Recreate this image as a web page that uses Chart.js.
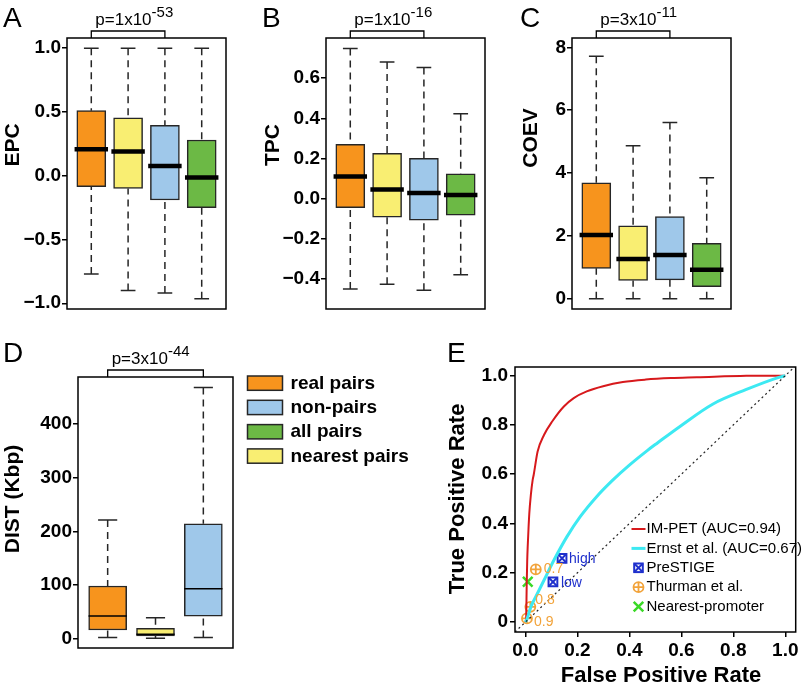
<!DOCTYPE html>
<html>
<head>
<meta charset="utf-8">
<script src="https://cdn.jsdelivr.net/npm/chart.js@4.4.1/dist/chart.umd.min.js"></script>
<style>
  html, body { margin: 0; padding: 0; background: #fff; }
  #fig { position: relative; width: 805px; height: 690px; overflow: hidden; }
  .panel { position: absolute; }
</style>
</head>
<body>
<div id="fig">
  <div class="panel" style="left:0;top:0;width:260px;height:330px"><canvas id="chartA"></canvas></div>
  <div class="panel" style="left:260px;top:0;width:260px;height:330px"><canvas id="chartB"></canvas></div>
  <div class="panel" style="left:520px;top:0;width:285px;height:330px"><canvas id="chartC"></canvas></div>
  <div class="panel" style="left:0;top:330px;width:430px;height:360px"><canvas id="chartD"></canvas></div>
  <div class="panel" style="left:430px;top:330px;width:375px;height:360px"><canvas id="chartE"></canvas></div>
</div>
<script>
// ---- data ----
// box order in A-C: real pairs, nearest pairs, non-pairs, all pairs
const epcMin = [-0.77, -0.90, -0.92, -0.965];
const epcQ1 = [-0.086, -0.10, -0.19, -0.25];
const epcMed = [0.207, 0.19, 0.076, -0.013];
const epcQ3 = [0.51, 0.455, 0.395, 0.28];
const epcMax = [1.0, 1.0, 1.0, 1.0];
const epcTicks = [-1, -0.5, 0, 0.5, 1];
const epcTickLabels = ['\u22121.0', '\u22120.5', '0.0', '0.5', '1.0'];

const tpcMin = [-0.45, -0.427, -0.457, -0.38];
const tpcQ1 = [-0.045, -0.093, -0.107, -0.082];
const tpcMed = [0.11, 0.045, 0.028, 0.018];
const tpcQ3 = [0.27, 0.225, 0.20, 0.123];
const tpcMax = [0.748, 0.68, 0.653, 0.423];
const tpcTicks = [-0.4, -0.2, 0, 0.2, 0.4, 0.6];
const tpcTickLabels = ['\u22120.4', '\u22120.2', '0.0', '0.2', '0.4', '0.6'];

const coevMin = [0, 0, 0, 0];
const coevQ1 = [0.965, 0.58, 0.60, 0.38];
const coevMed = [2.03, 1.26, 1.39, 0.92];
const coevQ3 = [3.69, 2.32, 2.61, 1.76];
const coevMax = [7.72, 4.87, 5.61, 3.85];
const coevTicks = [0, 2, 4, 6, 8];
const coevTickLabels = ['0', '2', '4', '6', '8'];

// D order: real pairs, nearest pairs, non-pairs
const distMin = [2, 0.5, 2];
const distQ1 = [16, 5, 41.6];
const distMed = [42, 8, 93];
const distQ3 = [98, 19, 214];
const distMax = [221, 39, 468];
const distTicks = [0, 100, 200, 300, 400];
const distTickLabels = ['0', '100', '200', '300', '400'];

const legendLabels = ['real pairs', 'non-pairs', 'all pairs', 'nearest pairs'];

// E: ROC curves
const imPetFpr = [0, 0.003, 0.005, 0.007, 0.009, 0.012, 0.015, 0.021, 0.028, 0.032, 0.047, 0.072, 0.103, 0.148, 0.186, 0.236, 0.299, 0.375, 0.463, 0.56, 0.66, 0.85, 1.0];
const imPetTpr = [0, 0.02, 0.15, 0.25, 0.31, 0.38, 0.44, 0.516, 0.577, 0.598, 0.692, 0.760, 0.814, 0.875, 0.909, 0.936, 0.957, 0.974, 0.984, 0.990, 0.993, 0.999, 1.0];
const ernstFpr = [0, 0.005, 0.009, 0.021, 0.040, 0.072, 0.110, 0.160, 0.211, 0.274, 0.337, 0.400, 0.470, 0.508, 0.596, 0.722, 0.848, 0.975, 1.0];
const ernstTpr = [0, 0.01, 0.022, 0.062, 0.103, 0.171, 0.252, 0.347, 0.428, 0.509, 0.577, 0.637, 0.697, 0.727, 0.795, 0.885, 0.943, 0.993, 1.0];
const prestigeFpr = [0.141, 0.106];
const prestigeTpr = [0.259, 0.163];
const prestigeLabels = ['high', 'low'];
const thurmanFpr = [0.040, 0.019, 0.006];
const thurmanTpr = [0.214, 0.062, 0.015];
const thurmanLabels = ['0.7', '0.8', '0.9'];
const nearestFpr = [0.009];
const nearestTpr = [0.164];
const rocLegendLabels = ['IM-PET (AUC=0.94)', 'Ernst et al. (AUC=0.67)', 'PreSTIGE', 'Thurman et al.', 'Nearest-promoter'];
const rateTicks = [0, 0.2, 0.4, 0.6, 0.8, 1.0];
const fprTickLabels = ['0.0', '0.2', '0.4', '0.6', '0.8', '1.0'];
const tprTickLabels = ['0', '0.2', '0.4', '0.6', '0.8', '1.0'];

// ---- style ----
const FONT = "'Liberation Sans', Arial, Helvetica, sans-serif";
const ORANGE = '#F7941D', YELLOW = '#F9EE72', BLUE = '#9FC8EA', GREEN = '#6CB945';
const RED = '#D7191C', CYAN = '#3DE9F2', M_BLUE = '#1F30CC', M_ORANGE = '#F2A33A', M_GREEN = '#3AD926';
const EDGE = '#262626';

Chart.defaults.font.family = FONT;
Chart.defaults.color = '#000';
Chart.defaults.animation = false;
Chart.defaults.events = [];
Chart.defaults.plugins.legend.display = false;
Chart.defaults.plugins.tooltip.enabled = false;

const tickGrid = { display: true, drawOnChartArea: false, drawTicks: true, tickLength: 5, color: '#000', lineWidth: 1.5 };

// whiskers, caps and medians of the box plots
const boxWhiskers = {
    id: 'boxWhiskers',
    afterDatasetsDraw(chart, args, o) {
        if (!o.stats) return;
        const { ctx, scales: { x, y } } = chart;
        const s = o.stats;
        ctx.save();
        for (let i = 0; i < s.med.length; i++) {
            const cx = x.getPixelForValue(i + 1);
            const cap = x.getPixelForValue(i + 1.2) - cx;
            const half = x.getPixelForValue(i + 1.4) - cx;
            ctx.strokeStyle = EDGE;
            ctx.lineWidth = 1.5;
            ctx.setLineDash([7, 5]);
            ctx.beginPath();
            ctx.moveTo(cx, y.getPixelForValue(s.max[i]));
            ctx.lineTo(cx, y.getPixelForValue(s.q3[i]));
            ctx.moveTo(cx, y.getPixelForValue(s.min[i]));
            ctx.lineTo(cx, y.getPixelForValue(s.q1[i]));
            ctx.stroke();
            ctx.setLineDash([]);
            ctx.beginPath();
            [s.max[i], s.min[i]].forEach(v => {
                const py = y.getPixelForValue(v);
                ctx.moveTo(cx - cap, py);
                ctx.lineTo(cx + cap, py);
            });
            ctx.stroke();
            const my = y.getPixelForValue(s.med[i]);
            ctx.strokeStyle = '#000';
            ctx.lineWidth = o.medianWidth;
            ctx.beginPath();
            ctx.moveTo(cx - half - o.medianExtra, my);
            ctx.lineTo(cx + half + o.medianExtra, my);
            ctx.stroke();
        }
        ctx.restore();
    }
};

// frame, panel letter, p-value bracket and axis titles
const panelDecor = {
    id: 'panelDecor',
    afterDraw(chart, args, o) {
        if (!o.letter) return;
        const { ctx, chartArea: a } = chart;
        ctx.save();
        ctx.strokeStyle = '#000';
        ctx.lineWidth = 1.5;
        ctx.strokeRect(a.left, a.top, a.right - a.left, a.bottom - a.top);
        ctx.fillStyle = '#000';
        ctx.textAlign = 'left';
        ctx.textBaseline = 'alphabetic';
        ctx.font = '28px ' + FONT;
        ctx.fillText(o.letter, o.letterAt[0], o.letterAt[1]);
        if (o.p) {
            const x1 = chart.scales.x.getPixelForValue(o.p.from);
            const x2 = chart.scales.x.getPixelForValue(o.p.to);
            const top = a.top - 7;
            ctx.lineWidth = 1.3;
            ctx.beginPath();
            ctx.moveTo(x1, a.top);
            ctx.lineTo(x1, top);
            ctx.lineTo(x2, top);
            ctx.lineTo(x2, a.top);
            ctx.stroke();
            ctx.font = '17px ' + FONT;
            ctx.fillText(o.p.base, x1 + 4, top - 6);
            const w = ctx.measureText(o.p.base).width;
            ctx.font = '15px ' + FONT;
            ctx.fillText(o.p.exp, x1 + 4 + w, top - 14);
        }
        if (o.yTitle) {
            ctx.save();
            ctx.translate(o.yTitle.at[0], o.yTitle.at[1]);
            ctx.rotate(-Math.PI / 2);
            ctx.textAlign = 'center';
            ctx.textBaseline = 'middle';
            ctx.font = 'bold ' + o.yTitle.size + 'px ' + FONT;
            ctx.fillText(o.yTitle.text, 0, 0);
            ctx.restore();
        }
        if (o.xTitle) {
            ctx.textAlign = 'center';
            ctx.textBaseline = 'middle';
            ctx.font = 'bold ' + o.xTitle.size + 'px ' + FONT;
            ctx.fillText(o.xTitle.text, o.xTitle.at[0], o.xTitle.at[1]);
        }
        ctx.restore();
    }
};

Chart.register(boxWhiskers, panelDecor);

function boxChart(id, st, colors, ticks, tickLabels, cfg) {
    return new Chart(document.getElementById(id), {
        type: 'bar',
        data: {
            datasets: [{
                data: st.q1.map((q, i) => ({ x: i + 1, y: [q, st.q3[i]] })),
                backgroundColor: colors,
                borderColor: EDGE,
                borderWidth: 1.5,
                borderSkipped: false,
                barThickness: cfg.barThickness
            }]
        },
        options: {
            responsive: true,
            maintainAspectRatio: false,
            layout: { padding: cfg.padding },
            scales: {
                x: { type: 'linear', min: cfg.xRange[0], max: cfg.xRange[1], offset: false, display: false },
                y: {
                    min: cfg.yRange[0],
                    max: cfg.yRange[1],
                    afterBuildTicks: s => { s.ticks = ticks.map(v => ({ value: v })); },
                    afterFit: s => { s.width = cfg.axisWidth; },
                    grid: tickGrid,
                    border: { display: false },
                    ticks: {
                        font: { size: 19, weight: 'bold' },
                        padding: 1,
                        callback: v => tickLabels[ticks.indexOf(v)]
                    }
                }
            },
            plugins: {
                boxWhiskers: { stats: st, medianWidth: cfg.medianWidth, medianExtra: cfg.medianExtra },
                panelDecor: cfg.decor
            }
        },
        plugins: cfg.extraPlugins || []
    });
}

const abcColors = [ORANGE, YELLOW, BLUE, GREEN];

boxChart('chartA', { min: epcMin, q1: epcQ1, med: epcMed, q3: epcQ3, max: epcMax }, abcColors, epcTicks, epcTickLabels, {
    barThickness: 29, padding: { left: 0, top: 38, right: 34, bottom: 21 }, axisWidth: 67,
    xRange: [0.34, 4.66], yRange: [-1.045, 1.08], medianWidth: 4.5, medianExtra: 2,
    decor: { letter: 'A', letterAt: [3, 27], p: { from: 1, to: 3, base: 'p=1x10', exp: '-53' },
             yTitle: { text: 'EPC', at: [13, 145], size: 21 } }
});

boxChart('chartB', { min: tpcMin, q1: tpcQ1, med: tpcMed, q3: tpcQ3, max: tpcMax }, abcColors, tpcTicks, tpcTickLabels, {
    barThickness: 29, padding: { left: 0, top: 38, right: 35, bottom: 21 }, axisWidth: 66,
    xRange: [0.34, 4.66], yRange: [-0.55, 0.80], medianWidth: 4.5, medianExtra: 2,
    decor: { letter: 'B', letterAt: [2, 27], p: { from: 1, to: 3, base: 'p=1x10', exp: '-16' },
             yTitle: { text: 'TPC', at: [13, 145], size: 21 } }
});

boxChart('chartC', { min: coevMin, q1: coevQ1, med: coevMed, q3: coevQ3, max: coevMax }, abcColors, coevTicks, coevTickLabels, {
    barThickness: 29, padding: { left: 0, top: 38, right: 74, bottom: 21 }, axisWidth: 52,
    xRange: [0.34, 4.66], yRange: [-0.33, 8.30], medianWidth: 4.5, medianExtra: 2,
    decor: { letter: 'C', letterAt: [0, 27], p: { from: 1, to: 3, base: 'p=3x10', exp: '-11' },
             yTitle: { text: 'COEV', at: [11, 138], size: 21 } }
});

// legend of panel D, drawn next to its plot
const distLegend = {
    id: 'distLegend',
    afterDraw(chart) {
        const ctx = chart.ctx;
        const fills = [ORANGE, BLUE, GREEN, YELLOW];
        ctx.save();
        ctx.font = 'bold 19px ' + FONT;
        ctx.textAlign = 'left';
        ctx.textBaseline = 'middle';
        legendLabels.forEach((lab, i) => {
            const top = 46 + i * 24.3;
            ctx.fillStyle = fills[i];
            ctx.fillRect(247.5, top, 35, 14.3);
            ctx.strokeStyle = EDGE;
            ctx.lineWidth = 1.5;
            ctx.strokeRect(247.5, top, 35, 14.3);
            ctx.fillStyle = '#000';
            ctx.fillText(lab, 290.5, top + 7.5);
        });
        ctx.restore();
    }
};

boxChart('chartD', { min: distMin, q1: distQ1, med: distMed, q3: distQ3, max: distMax }, [ORANGE, YELLOW, BLUE], distTicks, distTickLabels, {
    barThickness: 38, padding: { left: 0, top: 47, right: 197, bottom: 42 }, axisWidth: 78,
    xRange: [0.38, 3.62], yRange: [-17.5, 487.6], medianWidth: 1.5, medianExtra: 0,
    decor: { letter: 'D', letterAt: [3, 32], p: { from: 1, to: 3, base: 'p=3x10', exp: '-44' },
             yTitle: { text: 'DIST (Kbp)', at: [13, 169], size: 21 } },
    extraPlugins: [distLegend]
});

// ---- panel E: ROC ----
const pts = (xs, ys) => xs.map((v, i) => ({ x: v, y: ys[i] }));
const E_MIN = -0.04, E_MAX = 1.04;

const rocExtras = {
    id: 'rocExtras',
    afterDatasetsDraw(chart) {
        const { ctx, scales: { x, y } } = chart;
        ctx.save();
        ctx.font = '14px ' + FONT;
        ctx.textAlign = 'left';
        ctx.textBaseline = 'middle';
        ctx.fillStyle = M_BLUE;
        const prestigeOff = [[7, 1], [8, 1]];
        prestigeLabels.forEach((lab, i) => {
            ctx.fillText(lab, x.getPixelForValue(prestigeFpr[i]) + prestigeOff[i][0], y.getPixelForValue(prestigeTpr[i]) + prestigeOff[i][1]);
        });
        ctx.fillStyle = M_ORANGE;
        const thurmanOff = [[8, 0], [5, -7], [7, 4]];
        thurmanLabels.forEach((lab, i) => {
            ctx.fillText(lab, x.getPixelForValue(thurmanFpr[i]) + thurmanOff[i][0], y.getPixelForValue(thurmanTpr[i]) + thurmanOff[i][1]);
        });
        // legend inside the plot
        ctx.font = '15px ' + FONT;
        ctx.fillStyle = '#000';
        rocLegendLabels.forEach((lab, i) => {
            const cy = 199 + i * 19.4;
            const mx = 208.5;
            if (i === 0 || i === 1) {
                ctx.strokeStyle = i === 0 ? RED : CYAN;
                ctx.lineWidth = i === 0 ? 2 : 3;
                ctx.beginPath();
                ctx.moveTo(201.5, cy);
                ctx.lineTo(215.5, cy);
                ctx.stroke();
            } else if (i === 2) {
                ctx.strokeStyle = M_BLUE;
                ctx.lineWidth = 2;
                ctx.strokeRect(mx - 4.3, cy - 4.3, 8.6, 8.6);
                ctx.beginPath();
                ctx.moveTo(mx - 4.3, cy - 4.3); ctx.lineTo(mx + 4.3, cy + 4.3);
                ctx.moveTo(mx + 4.3, cy - 4.3); ctx.lineTo(mx - 4.3, cy + 4.3);
                ctx.stroke();
            } else if (i === 3) {
                ctx.strokeStyle = M_ORANGE;
                ctx.lineWidth = 1.8;
                ctx.beginPath();
                ctx.arc(mx, cy, 5, 0, Math.PI * 2);
                ctx.moveTo(mx - 5, cy); ctx.lineTo(mx + 5, cy);
                ctx.moveTo(mx, cy - 5); ctx.lineTo(mx, cy + 5);
                ctx.stroke();
            } else {
                ctx.strokeStyle = M_GREEN;
                ctx.lineWidth = 2.5;
                ctx.beginPath();
                ctx.moveTo(mx - 4.8, cy - 4.8); ctx.lineTo(mx + 4.8, cy + 4.8);
                ctx.moveTo(mx + 4.8, cy - 4.8); ctx.lineTo(mx - 4.8, cy + 4.8);
                ctx.stroke();
            }
            ctx.fillText(lab, 216.5, cy);
        });
        ctx.restore();
    }
};

new Chart(document.getElementById('chartE'), {
    type: 'scatter',
    data: {
        datasets: [
            { data: [{ x: E_MIN, y: E_MIN }, { x: E_MAX, y: E_MAX }], showLine: true, borderColor: '#222', borderWidth: 1.2, borderDash: [2, 3], pointRadius: 0 },
            { data: pts(ernstFpr, ernstTpr), showLine: true, borderColor: CYAN, borderWidth: 3, pointRadius: 0, cubicInterpolationMode: 'monotone' },
            { data: pts(imPetFpr, imPetTpr), showLine: true, borderColor: RED, borderWidth: 2, pointRadius: 0, cubicInterpolationMode: 'monotone' },
            { data: pts(prestigeFpr, prestigeTpr), pointStyle: 'rect', pointRadius: 6.2, borderColor: M_BLUE, backgroundColor: 'rgba(0,0,0,0)', borderWidth: 2 },
            { data: pts(prestigeFpr, prestigeTpr), pointStyle: 'crossRot', pointRadius: 6.2, borderColor: M_BLUE, borderWidth: 2 },
            { data: pts(thurmanFpr, thurmanTpr), pointStyle: 'circle', pointRadius: 5, borderColor: M_ORANGE, backgroundColor: 'rgba(0,0,0,0)', borderWidth: 1.8 },
            { data: pts(thurmanFpr, thurmanTpr), pointStyle: 'cross', pointRadius: 5, borderColor: M_ORANGE, borderWidth: 1.8 },
            { data: pts(nearestFpr, nearestTpr), pointStyle: 'crossRot', pointRadius: 6.8, borderColor: M_GREEN, borderWidth: 2.5 }
        ]
    },
    options: {
        responsive: true,
        maintainAspectRatio: false,
        layout: { padding: { left: 0, top: 37, right: 5, bottom: 0 } },
        scales: {
            x: {
                type: 'linear', min: E_MIN, max: E_MAX,
                afterBuildTicks: s => { s.ticks = rateTicks.map(v => ({ value: v })); },
                afterFit: s => { s.height = 58; },
                grid: tickGrid,
                border: { display: false },
                ticks: { font: { size: 19, weight: 'bold' }, padding: 2, autoSkip: false, maxRotation: 0,
                         callback: v => fprTickLabels[rateTicks.indexOf(v)] }
            },
            y: {
                type: 'linear', min: -0.04, max: 1.035,
                afterBuildTicks: s => { s.ticks = rateTicks.map(v => ({ value: v })); },
                afterFit: s => { s.width = 85; },
                grid: tickGrid,
                border: { display: false },
                ticks: { font: { size: 19, weight: 'bold' }, padding: 2,
                         callback: v => tprTickLabels[rateTicks.indexOf(v)] }
            }
        },
        plugins: {
            panelDecor: {
                letter: 'E', letterAt: [17, 32],
                yTitle: { text: 'True Positive Rate', at: [27.5, 169], size: 22 },
                xTitle: { text: 'False Positive Rate', at: [231, 346], size: 22 }
            }
        }
    },
    plugins: [rocExtras]
});
</script>
</body>
</html>
